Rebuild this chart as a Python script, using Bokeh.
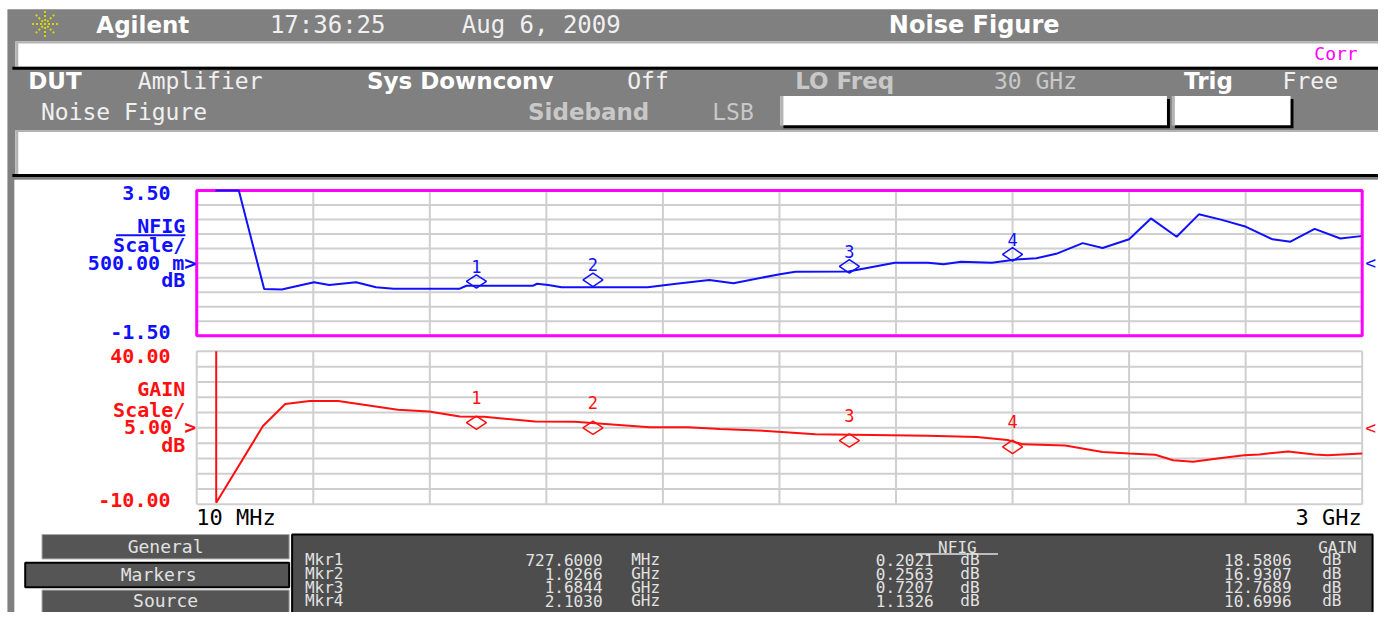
import numpy as np
from bokeh.plotting import figure
from bokeh.models import Range1d
from bokeh.core.properties import value
from bokeh.embed import file_html
from bokeh.resources import INLINE

# ---------------- data ----------------
F_START_MHZ = 10.0
F_STOP_MHZ = 3000.0
NF_TOP_DB, NF_BOTTOM_DB = 3.5, -1.5
GAIN_TOP_DB, GAIN_BOTTOM_DB = 40.0, -10.0

NF_FREQ_MHZ = [58, 118, 183, 228, 311, 350, 419, 470, 515, 685,
               702, 747, 872, 883, 912, 946, 1053, 1167, 1235, 1325,
               1387, 1506, 1546, 1682, 1801, 1886, 1926, 1971, 2050, 2107,
               2164, 2215, 2283, 2334, 2402, 2458, 2524, 2581, 2640, 2702,
               2770, 2816, 2878, 2944, 2997]
NF_DB = [3.5, 3.5, 0.11, 0.09, 0.34, 0.25, 0.34, 0.17, 0.12, 0.12,
         0.22, 0.22, 0.22, 0.29, 0.25, 0.17, 0.17, 0.17, 0.28, 0.42,
         0.31, 0.62, 0.70, 0.71, 1.01, 1.01, 0.96, 1.05, 1.01, 1.12,
         1.17, 1.32, 1.69, 1.52, 1.82, 2.54, 1.91, 2.68, 2.49, 2.25,
         1.82, 1.74, 2.18, 1.85, 1.93]

GAIN_FREQ_MHZ = [60, 60, 180, 237, 300, 373, 526, 606, 685, 747,
                 878, 980, 1172, 1270, 1353, 1472, 1597, 1886, 2011, 2090,
                 2130, 2238, 2334, 2402, 2469, 2515, 2566, 2629, 2697, 2736,
                 2810, 2878, 2911, 3000]
GAIN_DB = [40.0, -9.5, 15.6, 22.8, 23.8, 23.8, 20.9, 20.3, 18.7, 18.6,
           17.1, 17.0, 15.2, 15.2, 14.6, 14.0, 12.9, 12.4, 12.0, 11.0,
           9.6, 9.2, 7.1, 6.6, 6.2, 4.4, 3.9, 5.0, 6.0, 6.3,
           7.3, 6.3, 6.0, 6.6]

MKR_NAMES = ["Mkr1", "Mkr2", "Mkr3", "Mkr4"]
MKR_IDS = ["1", "2", "3", "4"]
MKR_FREQ_MHZ = [727.6, 1026.6, 1684.4, 2103.0]
MKR_NF_DB = [0.2021, 0.2563, 0.7207, 1.1326]
MKR_GAIN_DB = [18.5806, 16.9307, 12.7689, 10.6996]

NF_LABELS = ["3.50", "NFIG", "Scale/", "500.00 m>", "dB", "-1.50"]
GAIN_LABELS = ["40.00", "GAIN", "Scale/", "5.00 >", "dB", "-10.00"]
FREQ_LABELS = ["10 MHz", "3 GHz"]

# ---------------- layout (reference screen pixels) ----------------
X0, X1, Y0, Y1 = 0, 1394, 0, 628
W, H = 1378, 612
PL, PR = 198.5, 1377.5
NF_T, NF_B = 195.0, 344.0
G_T, G_B = 360.0, 517.0

MONO = "DejaVu Sans Mono"
SANS = "DejaVu Sans"
GRAY = "#808080"
LIGHT = "#c8c8c8"
SHADE = "#b4b4b4"
BLUE = "#1010ff"
RED = "#ff1010"
MAG = "#ff00ff"

mpp = (F_STOP_MHZ - F_START_MHZ) / (PR - PL)
nf_dpp = (NF_TOP_DB - NF_BOTTOM_DB) / (NF_B - NF_T)
g_dpp = (GAIN_TOP_DB - GAIN_BOTTOM_DB) / (G_B - G_T)

p = figure(width=W, height=H,
           x_range=Range1d(X0, X1), y_range=Range1d(Y1, Y0),
           output_backend="svg", toolbar_location=None,
           x_axis_location=None, y_axis_location=None, min_border=0)
p.grid.visible = False
p.outline_line_color = None
p.background_fill_color = "white"
p.border_fill_color = "white"

p.extra_x_ranges = {"freq": Range1d(F_START_MHZ - (PL - X0) * mpp,
                                    F_STOP_MHZ + (X1 - PR) * mpp)}
p.extra_y_ranges = {
    "nf": Range1d(NF_BOTTOM_DB - (Y1 - NF_B) * nf_dpp, NF_TOP_DB + (NF_T - Y0) * nf_dpp),
    "gain": Range1d(GAIN_BOTTOM_DB - (Y1 - G_B) * g_dpp, GAIN_TOP_DB + (G_T - Y0) * g_dpp),
}


def box(l, r, t, b, fill, line=None, lw=1):
    p.quad(left=[l], right=[r], top=[t], bottom=[b], fill_color=fill,
           line_color=line, line_width=lw)


def txt(x, y, s, color, size, bold=False, align="center", font=MONO):
    p.text(x=[x], y=[y], text=[s], text_color=color,
           text_font=value(font), text_font_size=f"{size}px",
           text_font_style="bold" if bold else "normal",
           text_align=align, text_baseline="middle")


# ---- instrument frame and header panels ----
box(7, 1394, 9, 628, GRAY)
box(15, 1394, 42, 68, "white")
box(15, 1394, 42, 44, SHADE)
box(15, 18, 42, 68, SHADE)
box(12, 1394, 68, 71, "black")
box(15, 1394, 133, 178, "white")
box(15, 1394, 133, 135, SHADE)
box(15, 18, 133, 178, SHADE)
box(12, 1394, 178, 181, "black")
box(14, 1394, 184, 628, "white")

# LSB boxes
box(792, 1183, 101, 131, "black")
box(789, 1180, 98, 128, "white")
box(789, 792, 98, 128, SHADE)
box(1188, 1308, 101, 131, "black")
box(1185, 1305, 98, 128, "white")
box(1185, 1188, 98, 128, SHADE)

# logo
p.scatter(x=[45], y=[24], marker="asterisk", size=26, line_color="#d6d600",
          line_width=2, line_dash="2 2")

# row 1
txt(144, 25, "Agilent", "white", 23, bold=True, font=SANS)
txt(331, 25, "17:36:25", "#f0f0f0", 24)
txt(547, 25, "Aug 6, 2009", "#f0f0f0", 24)
txt(985, 25, "Noise Figure", "white", 24, bold=True, font=SANS)
txt(1351, 54, "Corr", MAG, 18)

# row 3
txt(55, 83, "DUT", "white", 23, bold=True, font=SANS)
txt(202, 83, "Amplifier", "#f0f0f0", 23)
txt(465, 83, "Sys Downconv", "white", 23, bold=True, font=SANS)
txt(655, 83, "Off", "#f0f0f0", 23)
txt(854, 83, "LO Freq", LIGHT, 23, bold=True, font=SANS)
txt(1047, 83, "30 GHz", LIGHT, 23)
txt(1222, 83, "Trig", "white", 23, bold=True, font=SANS)
txt(1325, 83, "Free", "#f0f0f0", 23)
txt(125, 114, "Noise Figure", "#f0f0f0", 23)
txt(595, 114, "Sideband", LIGHT, 23, bold=True, font=SANS)
txt(741, 114, "LSB", LIGHT, 23)

# ---- grids ----
fgrid = np.linspace(F_START_MHZ, F_STOP_MHZ, 11)
nfgrid = np.linspace(NF_BOTTOM_DB, NF_TOP_DB, 11)
ggrid = np.linspace(GAIN_BOTTOM_DB, GAIN_TOP_DB, 11)
GRID = "#cfcfcf"

p.segment(x0=fgrid, x1=fgrid, y0=NF_BOTTOM_DB, y1=NF_TOP_DB, line_color=GRID,
          line_width=2, x_range_name="freq", y_range_name="nf")
p.segment(x0=F_START_MHZ, x1=F_STOP_MHZ, y0=nfgrid, y1=nfgrid, line_color=GRID,
          line_width=2, x_range_name="freq", y_range_name="nf")
p.segment(x0=fgrid, x1=fgrid, y0=GAIN_BOTTOM_DB, y1=GAIN_TOP_DB, line_color=GRID,
          line_width=2, x_range_name="freq", y_range_name="gain")
p.segment(x0=F_START_MHZ, x1=F_STOP_MHZ, y0=ggrid, y1=ggrid, line_color=GRID,
          line_width=2, x_range_name="freq", y_range_name="gain")

p.quad(left=[F_START_MHZ], right=[F_STOP_MHZ], bottom=[NF_BOTTOM_DB], top=[NF_TOP_DB],
       fill_alpha=0, line_color=MAG, line_width=3,
       x_range_name="freq", y_range_name="nf")

# ---- traces ----
p.line(NF_FREQ_MHZ, NF_DB, line_color=BLUE, line_width=2,
       x_range_name="freq", y_range_name="nf")
p.line(GAIN_FREQ_MHZ, GAIN_DB, line_color=RED, line_width=2,
       x_range_name="freq", y_range_name="gain")

# ---- markers ----
p.scatter(x=MKR_FREQ_MHZ, y=[v + 5 * nf_dpp for v in MKR_NF_DB], marker="diamond",
          size=20, angle=np.pi / 2, fill_color=None, line_color=BLUE, line_width=1.5,
          x_range_name="freq", y_range_name="nf")
p.text(x=MKR_FREQ_MHZ, y=MKR_NF_DB, text=MKR_IDS, y_offset=-20, text_color=BLUE,
       text_font=value(MONO), text_font_size="17px", text_align="center",
       text_baseline="middle", x_range_name="freq", y_range_name="nf")
p.scatter(x=MKR_FREQ_MHZ, y=[v - 6 * g_dpp for v in MKR_GAIN_DB], marker="diamond",
          size=20, angle=np.pi / 2, fill_color=None, line_color=RED, line_width=1.5,
          x_range_name="freq", y_range_name="gain")
p.text(x=MKR_FREQ_MHZ, y=MKR_GAIN_DB, text=MKR_IDS, y_offset=-19, text_color=RED,
       text_font=value(MONO), text_font_size="17px", text_align="center",
       text_baseline="middle", x_range_name="freq", y_range_name="gain")

# ---- scale labels ----
for (yy, xr), s in zip([(198, 172), (231, 187), (251, 187), (269, 198), (287, 187), (340, 172)], NF_LABELS):
    txt(xr, yy, s, BLUE, 20, bold=True, align="right")
p.segment(x0=[117], x1=[187], y0=[241], y1=[241], line_color=BLUE, line_width=2)
for (yy, xr), s in zip([(365, 172), (399, 187), (420, 187), (438, 198), (456, 187), (513, 172)], GAIN_LABELS):
    txt(xr, yy, s, RED, 20, bold=True, align="right")
txt(1386, 269, "<", BLUE, 18)
txt(1386, 438, "<", RED, 18)

txt(198, 531, FREQ_LABELS[0], "black", 22, align="left")
txt(1377, 531, FREQ_LABELS[1], "black", 22, align="right")

# ---- bottom tabs & marker table ----
TAB = "#555555"
TXT = "#e2e2e2"
box(42, 292, 548, 573, TAB, "#a8a8a8", 1)
box(25, 292, 577, 602, TAB, "black", 2)
box(42, 292, 605, 632, TAB, "#a8a8a8", 1)
txt(167, 560, "General", TXT, 18)
txt(160, 589, "Markers", TXT, 18)
txt(167, 616, "Source", TXT, 18)

box(295, 1388, 548, 632, "#4d4d4d", "black", 2)
txt(968, 561, "NFIG", TXT, 16)
p.segment(x0=[926], x1=[1009], y0=[568], y1=[568], line_color=TXT, line_width=1.5)
txt(1372, 561, "GAIN", TXT, 16, align="right")

row_y = [574, 588, 602, 616]
for name, f, nf, g, yy in zip(MKR_NAMES, MKR_FREQ_MHZ, MKR_NF_DB, MKR_GAIN_DB, row_y):
    if f < 1000:
        ftxt, unit = f"{f:.4f}", "MHz"
    else:
        ftxt, unit = f"{f / 1000:.4f}", "GHz"
    txt(308, yy, name, TXT, 16, align="left")
    txt(609, yy, ftxt, TXT, 16, align="right")
    txt(638, yy, unit, TXT, 16, align="left")
    txt(944, yy, f"{nf:.4f}", TXT, 16, align="right")
    txt(971, yy, "dB", TXT, 16, align="left")
    txt(1306, yy, f"{g:.4f}", TXT, 16, align="right")
    txt(1337, yy, "dB", TXT, 16, align="left")

open("out.html", "w").write(file_html(p, INLINE))
